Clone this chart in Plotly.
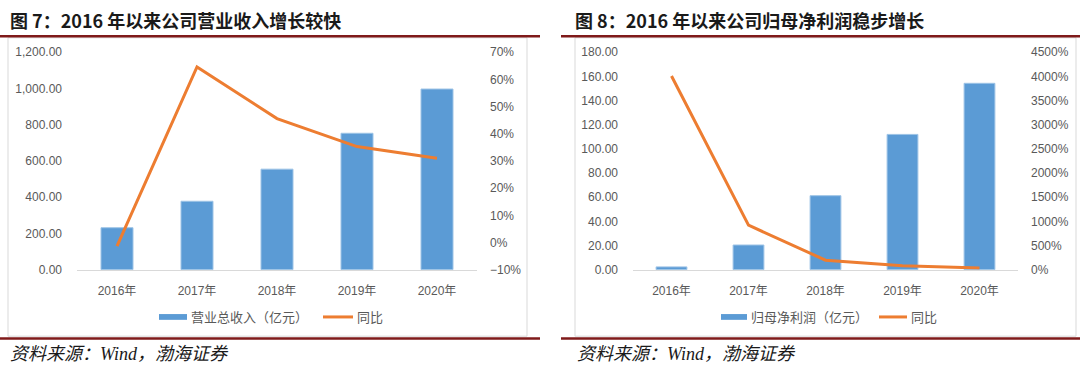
import plotly.graph_objects as go

W, H = 1080, 374

years = ["2016年", "2017年", "2018年", "2019年", "2020年"]
revenue = [232, 378, 555, 753, 997]            # 营业总收入（亿元）
revenue_yoy = [-1.3, 64.6, 45.6, 35.3, 31.0]    # 同比 (%)
net_profit = [2.4, 20.5, 61.3, 112.0, 154.3]    # 归母净利润（亿元）
profit_yoy = [4008, 922, 199, 83, 38]           # 同比 (%)

title_left = "图 7：2016 年以来公司营业收入增长较快"
title_right = "图 8：2016 年以来公司归母净利润稳步增长"
source_text = "资料来源：Wind，渤海证券"
legend_bar_left = "营业总收入（亿元）"
legend_bar_right = "归母净利润（亿元）"
legend_line = "同比"

BLUE = "#5B9BD5"
ORANGE = "#ED7D31"
GRAY_TXT = "#595959"
AXIS_LINE = "#D9D9D9"
RED = "#7F1A1A"
FONT = "Liberation Sans, Noto Sans CJK SC, sans-serif"
CJK = "Noto Sans CJK SC, sans-serif"


def px(x):
    return x / W


def py(y):
    return 1 - y / H


fig = go.Figure()

fig.add_trace(go.Bar(x=years, y=revenue, xaxis="x", yaxis="y", width=0.4,
                     marker=dict(color=BLUE, line=dict(color="#9DC3E6", width=1)),
                     showlegend=False, name=legend_bar_left))
fig.add_trace(go.Scatter(x=years, y=revenue_yoy, xaxis="x", yaxis="y2", mode="lines",
                         line=dict(color=ORANGE, width=3), showlegend=False, name=legend_line))
fig.add_trace(go.Bar(x=years, y=net_profit, xaxis="x2", yaxis="y3", width=0.4,
                     marker=dict(color=BLUE, line=dict(color="#9DC3E6", width=1)),
                     showlegend=False, name=legend_bar_right))
fig.add_trace(go.Scatter(x=years, y=profit_yoy, xaxis="x2", yaxis="y4", mode="lines",
                         line=dict(color=ORANGE, width=3), showlegend=False, name=legend_line))

ydom = [py(273), py(47)]
tickfont = dict(family=FONT, size=12, color=GRAY_TXT)

common_x = dict(type="category", showgrid=False, showline=True, linecolor=AXIS_LINE, linewidth=1,
                ticks="", tickfont=dict(family=FONT, size=12, color=GRAY_TXT),
                ticklabelstandoff=10)
common_y = dict(showgrid=False, showline=False, zeroline=False, ticks="", tickfont=tickfont)

fig.update_layout(
    width=W, height=H, margin=dict(l=0, r=0, t=0, b=0),
    paper_bgcolor="white", plot_bgcolor="rgba(0,0,0,0)",
    showlegend=False, bargap=0.6,
    xaxis=dict(common_x, domain=[px(77), px(477)], anchor="y"),
    yaxis=dict(common_y, domain=ydom, range=[0, 1200], dtick=200, tickformat=",.2f",
               anchor="x", ticklabelstandoff=14),
    yaxis2=dict(common_y, overlaying="y", side="right", range=[-10, 70], dtick=10,
                ticksuffix="%", anchor="x", ticklabelstandoff=12),
    xaxis2=dict(common_x, domain=[px(633), px(1018)], anchor="y3"),
    yaxis3=dict(common_y, domain=ydom, range=[0, 180], dtick=20, tickformat=".2f",
                anchor="x2", ticklabelstandoff=14),
    yaxis4=dict(common_y, overlaying="y3", side="right", range=[0, 4500], dtick=500,
                ticksuffix="%", anchor="x2", ticklabelstandoff=12),
)

shapes = []
# chart frames
for x0, x1 in [(8, 527), (575, 1076)]:
    shapes.append(dict(type="rect", xref="paper", yref="paper", x0=px(x0), x1=px(x1),
                       y0=py(342), y1=py(32), line=dict(color=AXIS_LINE, width=1)))
# red rules
for x0, x1 in [(0, 540), (561, 1080)]:
    for yy in (30.5, 344.5):
        shapes.append(dict(type="line", xref="paper", yref="paper", x0=px(x0), x1=px(x1),
                           y0=py(yy), y1=py(yy), line=dict(color=RED, width=2.5)))
# legend swatches
for bx0, bx1, lx0, lx1 in [(159, 187, 323, 353), (721, 747, 879, 907)]:
    shapes.append(dict(type="rect", xref="paper", yref="paper", x0=px(bx0), x1=px(bx1),
                       y0=py(325), y1=py(319), fillcolor=BLUE, line=dict(width=0)))
    shapes.append(dict(type="line", xref="paper", yref="paper", x0=px(lx0), x1=px(lx1),
                       y0=py(322), y1=py(322), line=dict(color=ORANGE, width=3)))
fig.update_layout(shapes=shapes)

ann = []
for x, t in [(8, title_left), (573, title_right)]:
    ann.append(dict(text="<b>" + t + "</b>", x=px(x), y=py(14), xref="paper", yref="paper",
                    xanchor="left", yanchor="middle", showarrow=False,
                    font=dict(family=CJK, size=18, color="#1a1a1a")))
for x in (8, 575):
    ann.append(dict(text="<i>" + source_text + "</i>",
                    x=px(x), y=py(361), xref="paper", yref="paper",
                    xanchor="left", yanchor="middle", showarrow=False,
                    font=dict(family="Liberation Serif, " + CJK, size=18, color="#1a1a1a")))
for x, t in [(189, legend_bar_left), (355, legend_line), (749, legend_bar_right), (909, legend_line)]:
    ann.append(dict(text=t, x=px(x), y=py(322), xref="paper", yref="paper",
                    xanchor="left", yanchor="middle", showarrow=False,
                    font=dict(family=CJK, size=13, color=GRAY_TXT)))
fig.update_layout(annotations=ann)

fig.write_html("out.html", config={"displayModeBar": False},
               post_script="document.body.style.margin='0';document.body.style.overflow='hidden';")
